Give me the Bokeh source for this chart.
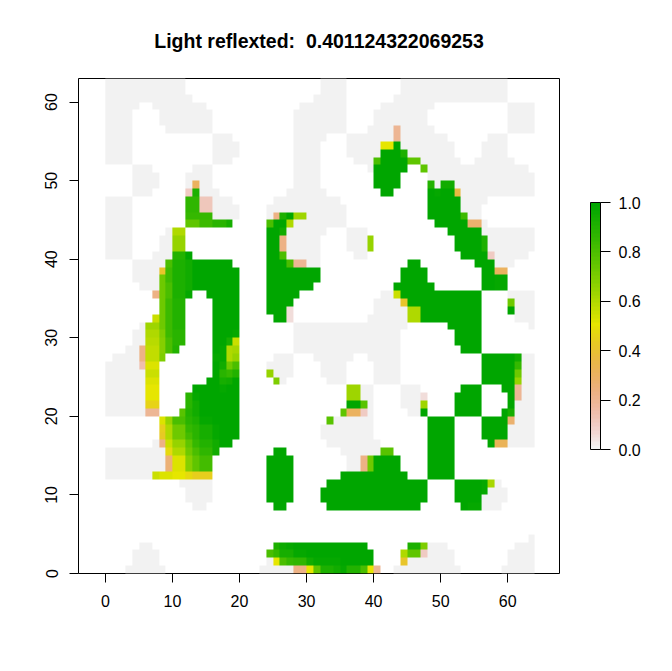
import colorsys
import numpy as np
from bokeh.embed import file_html
from bokeh.resources import INLINE
from bokeh.models import ColorBar, FixedTicker, LinearColorMapper, NumeralTickFormatter, Range1d
from bokeh.plotting import figure

TITLE = "Light reflexted: \u00a00.401124322069253"
X_TICKS = [0, 10, 20, 30, 40, 50, 60]
Y_TICKS = [0, 10, 20, 30, 40, 50, 60]
BAR_TICKS = [0.0, 0.2, 0.4, 0.6, 0.8, 1.0]
N_COLS = 64
N_ROWS = 63

# One entry per row, from the top of the image to its bottom.
# "a-b:v" = columns a..b hold value v; "a:v" = column a holds v. Missing cells are blank.
ROWS = [
    "0-11:0 32-35:0 44-59:0",
    "0-11:0 32-35:0 44-59:0",
    "0-12:0 31-35:0 43-59:0",
    "0-4:0 7-14:0 29-35:0 41-48:0 60-63:0",
    "0-3:0 8-15:0 28-35:0 40-47:0 60-63:0",
    "0-3:0 8-15:0 28-35:0 40-47:0 60-63:0",
    "0-3:0 9-15:0 28-35:0 39-42:0 43:.2 44-48:0 60-63:0",
    "0-3:0 16-18:0 28-32:0 36-42:0 43:.2 44-50:0 57-59:0",
    "0-3:0 16-19:0 28-31:0 36-40:0 41-42:.5 43:1 44-51:0 56-59:0",
    "0-3:0 16-19:0 28-31:0 36-40:0 41-43:1 44:.92 45-51:0 56-59:0",
    "0-3:0 16-18:0 28-31:0 37-39:0 40:.8 41-44:1 45-46:.75 47-52:0 55-60:0",
    "4-6:0 13-15:0 28-31:0 39:0 40-44:1 47:.75 48-62:0",
    "4-7:0 12-15:0 28-31:0 40-43:1 48-63:0",
    "4-7:0 12:0 13:.3 14-15:0 28-31:0 40-43:1 48:.9 49:0 50-51:.95 52-63:0",
    "4-6:0 12:.1 13:.92 14-16:0 27-32:0 41-42:1 48:1 49:.97 50-51:1 52:.37 53-63:0",
    "0-3:0 12-13:.87 14-15:.12 16-18:0 25-34:0 48-52:1 53-56:0",
    "0-3:0 12-13:.87 14-15:.12 16-19:0 24-35:0 48-52:1 53-55:0",
    "0-3:0 12-15:.85 16-19:0 24:0 25:.22 26:.92 27:1 28-29:.63 30-35:0 48-52:1 53:.83 54-55:0",
    "0-3:0 12-13:.75 14-15:.83 16-17:.88 18:.93 24:.8 25-26:1 27:.6 28-35:0 49-53:1 54-55:.27 56:0",
    "0-3:0 9:0 10-11:.6 24-25:1 26:.95 27-32:0 36-38:0 51-55:1 56-63:0",
    "0-3:0 8-9:0 10-11:.65 24-25:1 26:.22 27-31:0 36-38:0 39:.65 52-55:1 56:.92 57-63:0",
    "0-3:0 8-9:0 10-11:.65 24-25:1 26:.22 27-31:0 36-38:0 39:.65 52-55:1 56:.92 57-63:0",
    "0-3:0 7-9:0 10-11:.9 12:1 24-25:1 26:.8 27-31:0 37-38:0 53-56:1 57:.1 58-62:0",
    "4-8:0 9:.8 10-11:.92 12:.95 13-18:1 24-26:1 27:.8 28-29:.2 30-31:0 45-46:1 55-57:1 58-60:0",
    "4-7:0 8:.42 9:.83 10-11:.92 12:.95 13-19:1 24-31:1 44-47:1 56-57:1 58-59:.3",
    "4-7:0 8:.73 9:.83 10-11:.92 12:.95 13-19:1 24-31:1 44-47:1 56-57:1 58-59:.97",
    "5-7:0 8:.73 9:.8 10-11:.92 12:.95 13-19:1 24-30:1 43-48:1 56-57:1 58-59:.97",
    "7:.22 8:.73 9:.8 10-11:.92 12:.97 15-19:1 24-28:1 41-42:0 43:.55 44-55:1 60-63:0",
    "8:.73 9:.83 10-11:.9 16-19:1 24-27:1 40-43:0 44:.42 45-55:1 60:.72 61-63:0",
    "8:.72 9:.83 10-11:.9 16-19:1 24-26:1 27:.05 40-44:0 45-46:.6 47-55:1 60:1 61-63:0",
    "7:.55 8:.72 9:.83 10-11:.9 16-19:1 25-26:1 27:.05 39-44:0 45-46:.6 47-55:1 61-63:0",
    "5:0 6-7:.63 8:.72 9:.83 10-11:.9 16-19:1 28-44:0 51-55:1 63:0",
    "4-5:0 6-7:.6 8:.7 9:.83 10-11:.88 16-18:1 19:.98 28-43:0 52-55:1",
    "4-5:0 6-7:.58 8:.68 9:.8 10-11:.88 16-17:1 18:.93 19:.55 28-43:0 52-55:1",
    "3-4:0 5:.22 6-7:.57 8:.68 9:.8 10:.9 16:1 17:.98 18:.6 19:.62 28-43:0 53-55:1",
    "1-4:0 5:.22 6-7:.57 8:.7 16-17:.98 18:.6 19:.65 25-27:0 31-36:0 39-43:0 56-60:1 61:.95 62-63:0",
    "0-4:0 5:.15 6-7:.53 16:1 17:.95 18:.72 19:.8 24-27:0 32-35:0 40-43:0 56-60:1 61:.85 62-63:0",
    "0-5:0 6-7:.55 16:1 17:.88 18:.85 19:.9 24:.65 25-27:0 32-35:0 40-43:0 56-60:1 61:.72 62-63:0",
    "0-5:0 6-7:.52 15-16:1 17:.93 18:.95 19:1 25:.7 26:0 33-35:0 40-43:0 56-60:1 61:.65 62-63:0",
    "0-5:0 6-7:.5 13-16:1 17:.98 18-19:1 36-37:.63 38-39:0 44-46:0 53-55:1 59-60:1 61:.2 62-63:0",
    "0-5:0 6-7:.5 12:.88 13:.97 14-19:1 36-37:.63 38-39:0 44-46:0 47:.05 52-55:1 60:1 61:.2 62-63:0",
    "0-5:0 6-7:.46 12:.88 13:.95 14-19:1 36-37:1 38:.78 39:0 44-46:0 47:.63 52-55:1 60:1 61-63:0",
    "0-5:0 6-7:.2 11:.78 12:.9 13:.95 14-19:1 35:.75 36-37:.3 38:.1 39:0 45-46:0 47:1 52-55:1 59:1 60:.93 61-63:0",
    "8:.53 9:.65 10-11:.8 12:.88 13:.92 14-15:.97 16-19:1 33:.78 34-39:0 48-51:1 56-59:1 60:.28 61-63:0",
    "8:.45 9:.6 10-11:.72 12:.85 13:.88 14-15:.93 16:.98 17-19:1 32-39:0 48-51:1 56-59:1 60-63:0",
    "8:.43 9:.6 10-11:.72 12:.82 13:.88 14-15:.93 16:.98 17-19:1 32-39:0 48-51:1 56-59:1 60-63:0",
    "7:0 8:.22 9:.55 10-11:.65 12:.75 13:.85 14-15:.9 16:.95 17-18:1 33-40:0 48-51:1 57:1 58-59:.32 60-63:0",
    "0-8:0 9:.48 10-11:.6 12:.72 13:.8 14-15:.87 16:.95 25-26:1 35-40:0 41-42:.77 48-51:1",
    "0-8:0 9:.25 10-11:.53 12:.68 13:.75 14-15:.82 24-27:1 36-37:0 38:.22 39:.73 40-43:1 48-51:1",
    "0-8:0 9:.25 10-11:.53 12:.68 13:.75 14-15:.82 24-27:1 36-37:0 38:.22 39:.73 40-43:1 48-51:1",
    "0-6:0 7:.55 8-9:.53 10-11:.51 12:.48 13:.45 14-15:.44 24-27:1 35-44:1 48-51:1",
    "11-15:0 24-27:1 33-47:1 52-55:1 56:.98 57:.62 58:0",
    "12-15:0 24-27:1 32-47:1 52-55:1 56:.98 57-59:0",
    "12-15:0 24-27:1 32-47:1 52-55:1 56-59:0",
    "13-14:0 25-26:1 33-46:1 53:1 54-55:.97 56-58:0",
    "",
    "",
    "",
    "63:0",
    "5-6:0 25:.92 26:.96 27:.98 28-38:1 45-46:.92 47:.7 48-50:0 61-63:0",
    "4-7:0 24:.8 25:.85 26-27:.93 28-29:.97 30-39:1 44:.6 45-46:.75 47:.1 48-51:0 60-63:0",
    "4-7:0 24:0 25:.5 26:.8 27:.85 28-29:.87 30:.95 31-34:.97 35-39:1 44:.42 45-51:0 60-63:0",
    "3-8:0 23-27:0 28-29:.22 30:.5 31:.75 32-33:.92 34:.95 35:.97 36-37:.9 38:.8 39:.5 40:.2 43-52:0 59-63:0",
]


def terrain_palette(n):
    """R's rev(terrain.colors(n)): low values grey, high values green."""
    k = n // 2
    cols = []
    for i in range(k):
        t = i / (k - 1)
        cols.append(colorsys.hsv_to_rgb((4 - 2 * t) / 12, 1.0, 0.65 + 0.25 * t))
    m = n - k
    for i in range(1, m + 1):
        t = i / m
        cols.append(colorsys.hsv_to_rgb((2 - 2 * t) / 12, 1.0 - t, 0.90 + 0.05 * t))
    out = ["#%02X%02X%02X" % tuple(round(c * 255) for c in rgb) for rgb in cols]
    return out[::-1]


grid = np.full((N_ROWS, N_COLS), np.nan)
for k, row in enumerate(ROWS):
    j = N_ROWS - 1 - k
    for tok in row.split():
        span, v = tok.split(":")
        a, _, b = span.partition("-")
        grid[j, int(a):int(b or a) + 1] = float(v)

# The SVG backend lets the browser rescale the image: repeating each cell keeps its edges sharp.
SHARPEN = 8
sharp = np.repeat(np.repeat(grid, SHARPEN, axis=0), SHARPEN, axis=1)

mapper = LinearColorMapper(palette=terrain_palette(64), low=0, high=1, nan_color="#FFFFFF00")

FONT = "Liberation Sans"
p = figure(
    width=660, height=650, output_backend="svg", toolbar_location=None,
    x_range=Range1d(-4.0, 67.72), y_range=Range1d(0, N_ROWS),
    min_border_left=78, min_border_right=101, min_border_top=78, min_border_bottom=77,
    title=TITLE,
)
p.frame_width = 481
p.frame_height = 495
p.image(image=[sharp], x=0, y=0, dw=N_COLS, dh=N_ROWS, color_mapper=mapper)

p.grid.visible = False
p.outline_line_color = "black"
p.outline_line_width = 1
p.background_fill_color = "white"
p.border_fill_color = "white"

p.title.align = "center"
p.title.text_font = FONT
p.title.text_font_style = "bold"
p.title.text_font_size = "19.5px"
p.title.text_color = "black"
p.title.standoff = 54

for ax, ticks in ((p.xaxis[0], X_TICKS), (p.yaxis[0], Y_TICKS)):
    ax.ticker = FixedTicker(ticks=ticks)
    ax.major_tick_in = 0
    ax.major_tick_out = 9
    ax.minor_tick_line_color = None
    ax.axis_line_color = None
    ax.major_tick_line_color = "black"
    ax.major_label_text_font = FONT
    ax.major_label_text_font_size = "16px"
    ax.major_label_text_color = "black"
    ax.major_label_standoff = 12
p.yaxis[0].major_label_orientation = "vertical"

bar = ColorBar(
    color_mapper=mapper, ticker=FixedTicker(ticks=BAR_TICKS), width=10, height=247,
    location=(31, 124), padding=0, margin=0, major_tick_in=0, major_tick_out=10,
    major_tick_line_color="black", bar_line_color="black", bar_line_width=1,
    major_label_text_font=FONT, major_label_text_font_size="16px",
    major_label_text_color="black", label_standoff=8,
    formatter=NumeralTickFormatter(format="0.0"),
)
p.add_layout(bar, "right")

open("out.html", "w").write(file_html(p, INLINE))
